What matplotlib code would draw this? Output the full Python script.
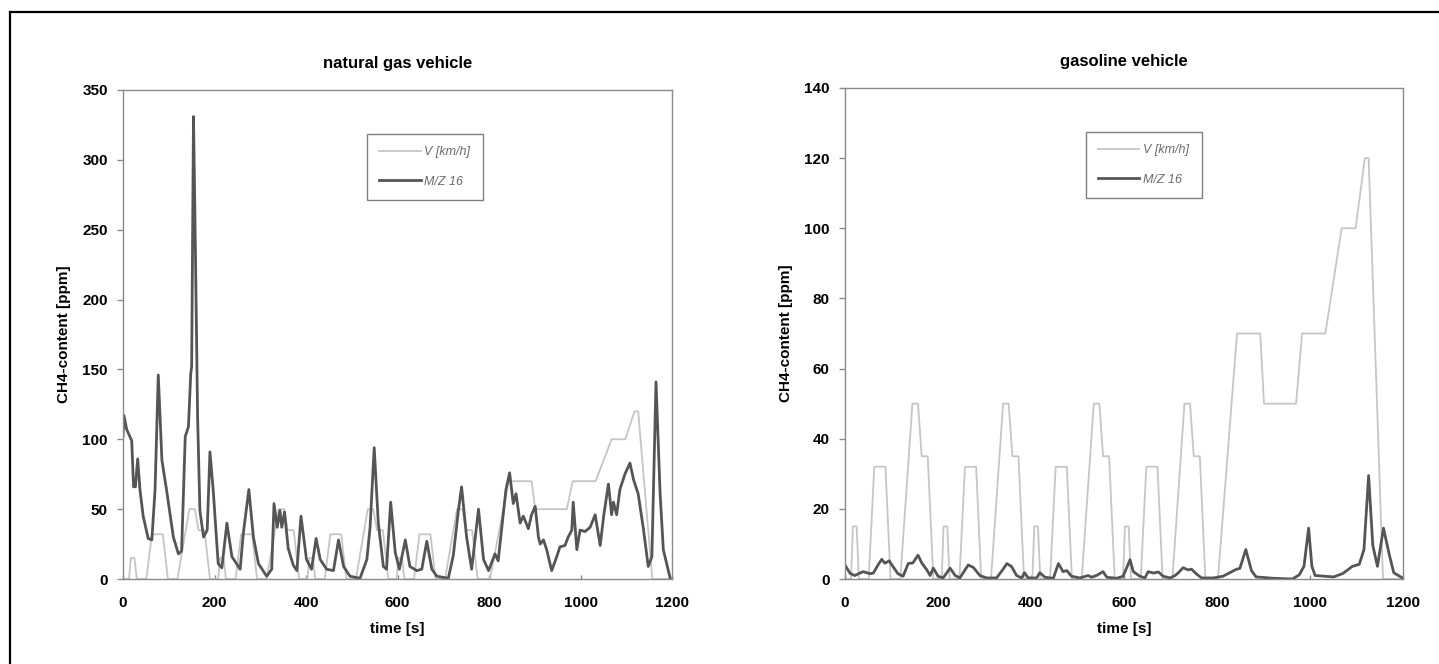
import matplotlib
matplotlib.use("Agg")
import matplotlib.pyplot as plt
from matplotlib.lines import Line2D

plt.rcParams['font.family'] = ['Liberation Sans', 'DejaVu Sans']

# vehicle speed (driving cycle), same for both tests
speed_t = [0, 13, 17, 25, 30, 51, 63, 87, 98, 119, 145, 157, 165, 178, 190,
           208, 212, 220, 225, 246, 258, 282, 293, 314, 340, 352, 360, 373, 385,
           403, 407, 415, 420, 441, 453, 477, 488, 509, 535, 547, 555, 568, 580,
           598, 602, 610, 615, 636, 648, 672, 683, 704, 730, 742, 750, 763, 775,
           802, 843, 893, 901, 970, 983, 1033, 1068, 1098, 1118, 1126, 1157, 1195]
speed_v = [0, 0, 15, 15, 0, 0, 32, 32, 0, 0, 50, 50, 35, 35, 0,
           0, 15, 15, 0, 0, 32, 32, 0, 0, 50, 50, 35, 35, 0,
           0, 15, 15, 0, 0, 32, 32, 0, 0, 50, 50, 35, 35, 0,
           0, 15, 15, 0, 0, 32, 32, 0, 0, 50, 50, 35, 35, 0,
           0, 70, 70, 50, 50, 70, 70, 100, 100, 120, 120, 0, 0]

# M/Z 16 signal, natural gas vehicle
ng_t = [0, 2, 8, 19, 23, 27, 32, 37, 44, 55, 63, 70, 77, 85, 95, 110, 121, 128,
        136, 143, 148, 150, 154, 158, 163, 168, 176, 184, 190, 197, 208, 216,
        227, 238, 256, 263, 275, 285, 296, 314, 325, 330, 337, 343, 347, 353,
        361, 372, 380, 389, 401, 412, 422, 431, 445, 460, 471, 482, 496, 518,
        533, 540, 549, 558, 569, 576, 585, 595, 604, 617, 627, 642, 653, 664,
        675, 686, 711, 722, 733, 740, 751, 762, 777, 788, 799, 813, 820, 828,
        837, 845, 853, 859, 868, 875, 886, 893, 901, 908, 912, 919, 926, 937,
        948, 955, 966, 973, 981, 984, 992, 999, 1010, 1021, 1032, 1043, 1051,
        1061, 1068, 1072, 1079, 1086, 1097, 1108, 1116, 1126, 1137, 1148, 1156,
        1165, 1174, 1181, 1196]
ng_v = [102, 117, 107, 99, 66, 66, 86, 64, 45, 29, 28, 64, 146, 85, 64, 30, 18, 20,
        102, 109, 147, 152, 331, 240, 116, 49, 30, 35, 91, 64, 11, 8,
        40, 16, 7, 33, 64, 30, 11, 2, 7, 54, 37, 49, 37, 48,
        22, 10, 6, 45, 14, 7, 29, 14, 7, 6, 28, 9, 2, 0.5,
        14, 37, 94, 40, 9, 7, 55, 19, 7, 28, 9, 6, 7, 27,
        7, 2, 0.5, 17, 49, 66, 30, 7, 50, 14, 6, 18, 13, 37,
        64, 76, 54, 61, 40, 45, 36, 46, 52, 30, 25, 28, 21, 6,
        16, 23, 24, 30, 35, 55, 21, 35, 34, 37, 46, 24, 46,
        68, 46, 55, 46, 64, 75, 83, 71, 61, 37, 9, 16,
        141, 61, 21, 0.5]

# M/Z 16 signal, gasoline vehicle
gas_t = [0, 11, 21, 39, 54, 61, 71, 79, 86, 95, 103, 114, 125, 136, 146, 157,
         165, 176, 183, 190, 200, 211, 226, 237, 247, 265, 276, 290, 305, 326,
         340, 348, 358, 369, 380, 386, 394, 412, 419, 430, 448, 459, 469, 477,
         487, 505, 523, 530, 541, 555, 563, 584, 598, 613, 620, 634, 645, 652,
         663, 674, 684, 699, 710, 717, 727, 738, 745, 756, 767, 792, 813, 842,
         849, 862, 874, 884, 922, 962, 977, 987, 997, 1004, 1011, 1051, 1071,
         1091, 1106, 1116, 1126, 1135, 1145, 1158, 1170, 1180, 1200]
gas_v = [4, 1.6, 1, 2.1, 1.5, 1.7, 4, 5.6, 4.5, 5.2, 3.6, 1.5, 0.8, 4.4, 4.6, 6.8,
         4.6, 2.6, 1, 3.1, 0.8, 0.3, 3.1, 1, 0.3, 4, 3.3, 1, 0.3, 0.3,
         2.8, 4.4, 3.6, 1, 0.3, 1.8, 0.3, 0.3, 1.8, 0.5, 0.2, 4.4, 2.1, 2.4,
         0.8, 0.3, 1, 0.5, 1, 2.1, 0.5, 0.2, 0.8, 5.5, 2.1, 0.8, 0.3, 2.1,
         1.7, 2, 0.8, 0.3, 1, 1.8, 3.2, 2.6, 2.8, 1.4, 0.3, 0.3, 0.8, 2.8,
         3, 8.4, 2.4, 0.6, 0.2, 0, 1.2, 3.6, 14.5, 3.6, 1, 0.6, 1.6,
         3.6, 4.2, 8.4, 29.5, 9.6, 3.6, 14.5, 7.2, 1.8, 0.2]

titles = ["natural gas vehicle", "gasoline vehicle"]
ylims = [350, 140]
ysteps = [50, 20]

SPEED_C = '#c6c6c6'
MZ_C = '#555555'
FRAME_C = '#8a8a8a'

fig = plt.figure(figsize=(14.39, 6.64), dpi=100)
ax1 = fig.add_axes([0.0855, 0.128, 0.3815, 0.7365])
ax2 = fig.add_axes([0.5872, 0.128, 0.3878, 0.7395])

for ax, title, ymax, ystep, mt, mv, leg_x in [
        (ax1, titles[0], ylims[0], ysteps[0], ng_t, ng_v, 0.55),
        (ax2, titles[1], ylims[1], ysteps[1], gas_t, gas_v, 0.535)]:
    ax.plot(speed_t, speed_v, color=SPEED_C, lw=1.3, label='V [km/h]')
    ax.plot(mt, mv, color=MZ_C, lw=2.0, label='M/Z 16')
    ax.set_xlim(0, 1200)
    ax.set_ylim(0, ymax)
    ax.set_xticks(range(0, 1201, 200))
    ax.set_yticks(range(0, ymax + 1, ystep))
    for s in ax.spines.values():
        s.set_color(FRAME_C)
        s.set_linewidth(1.0)
    ax.tick_params(axis='y', direction='out', length=4, width=1, color=FRAME_C,
                   pad=7, labelsize=11)
    ax.tick_params(axis='x', direction='in', length=3, width=1, color=FRAME_C,
                   pad=12, labelsize=11)
    for lab in ax.get_xticklabels() + ax.get_yticklabels():
        lab.set_fontweight('bold')
    ax.set_title(title, fontsize=12, fontweight='bold', pad=16)
    ax.set_xlabel('time [s]', fontsize=11, fontweight='bold', labelpad=9)
    ax.set_ylabel('CH4-content [ppm]', fontsize=11, fontweight='bold', labelpad=8)
    leg = ax.legend(loc='center', bbox_to_anchor=(leg_x, 0.843), frameon=True,
                    fancybox=False, edgecolor='#808080', framealpha=1,
                    prop={'style': 'italic', 'size': 9}, handlelength=3.3,
                    handletextpad=0.3, borderpad=1.0, labelspacing=1.4,
                    borderaxespad=0)
    leg.get_frame().set_linewidth(1.0)
    for txt in leg.get_texts():
        txt.set_color('#6a6a6a')

# page frame (scan border)
fig.add_artist(Line2D([0.007, 1.0], [0.982, 0.982], color='black', lw=1.6,
                      transform=fig.transFigure))
fig.add_artist(Line2D([0.007, 0.007], [0.0, 0.982], color='black', lw=1.6,
                      transform=fig.transFigure))

fig.savefig('out.png', dpi=100)
